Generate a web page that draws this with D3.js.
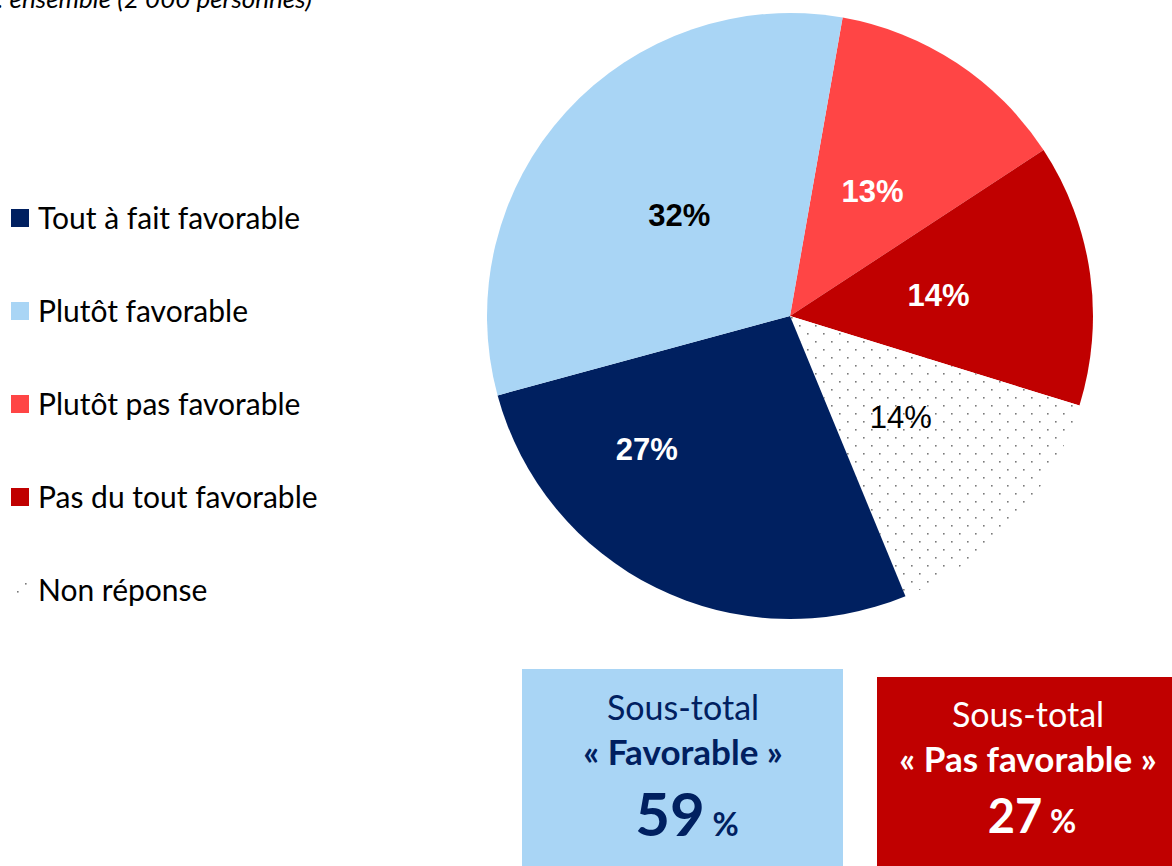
<!DOCTYPE html>
<html>
<head>
<meta charset="utf-8">
<script src="https://cdn.jsdelivr.net/npm/d3@7"></script>
<style>
  html, body { margin: 0; padding: 0; background: #fff; overflow: hidden; }
  svg { display: block; }
</style>
</head>
<body>
<script>
// ---------- data ----------
const categories = ["Tout à fait favorable", "Plutôt favorable", "Plutôt pas favorable", "Pas du tout favorable", "Non réponse"];
const values = [27, 32, 13, 14, 14];
const sliceOrder = ["Plutôt pas favorable", "Pas du tout favorable", "Non réponse", "Tout à fait favorable", "Plutôt favorable"];
const colors = ["#002060", "#A9D5F5", "#FF4545", "#C00000", "pattern"];
const labelColors = ["#fff", "#000", "#fff", "#fff", "#000"];
const labelBold = [true, true, true, true, false];
const subtotalLabels = ["« Favorable »", "« Pas favorable »"];
const subtotalValues = [59, 27];
const subtitle = ": ensemble (2 000 personnes)";

// ---------- layout ----------
const W = 1172, H = 866;
const cx = 790, cy = 316, R = 303;
const startDeg = 10;
const labelNudge = { "Tout à fait favorable": [-77, -2] };

const svg = d3.select("body").append("svg").attr("width", W).attr("height", H);
const defs = svg.append("defs");
const pat = defs.append("pattern").attr("id", "dots").attr("patternUnits", "userSpaceOnUse")
  .attr("width", 16).attr("height", 16);
pat.append("rect").attr("width", 16).attr("height", 16).attr("fill", "#fff");
pat.append("rect").attr("x", 1).attr("y", 1).attr("width", 1.6).attr("height", 1.6).attr("fill", "#7a7a7a");
pat.append("rect").attr("x", 9).attr("y", 9).attr("width", 1.6).attr("height", 1.6).attr("fill", "#7a7a7a");

const fill = c => { const v = colors[categories.indexOf(c)]; return v === "pattern" ? "url(#dots)" : v; };

// subtitle
svg.append("text").attr("x", -3).attr("y", 8)
  .attr("font-family", "Lato, 'Open Sans', sans-serif").attr("font-style", "italic")
  .attr("font-size", 26).attr("fill", "#000").text(subtitle);

// pie
const pieData = sliceOrder.map(c => ({ cat: c, value: values[categories.indexOf(c)] }));
const start = startDeg * Math.PI / 180;
const pie = d3.pie().sort(null).value(d => d.value).startAngle(start).endAngle(start + 2 * Math.PI);
const arc = d3.arc().innerRadius(0).outerRadius(R);
const labelArc = d3.arc().innerRadius(0).outerRadius(R * 0.99);
const g = svg.append("g").attr("transform", `translate(${cx},${cy})`);
const arcs = pie(pieData);
g.selectAll("path.slice").data(arcs).join("path").attr("class", "slice")
  .attr("d", arc).attr("fill", d => fill(d.data.cat));

g.selectAll("text.lbl").data(arcs).join("text").attr("class", "lbl")
  .attr("transform", d => {
    const [x, y] = labelArc.centroid(d);
    const n = labelNudge[d.data.cat] || [0, 0];
    return `translate(${x + n[0]},${y + n[1]})`;
  })
  .attr("text-anchor", "middle").attr("dy", "0.36em")
  .attr("font-family", "'Liberation Sans', Arial, sans-serif")
  .attr("font-size", 31)
  .attr("font-weight", d => labelBold[categories.indexOf(d.data.cat)] ? "bold" : "normal")
  .attr("fill", d => labelColors[categories.indexOf(d.data.cat)])
  .text(d => d.data.value + "%");

// legend
const ly = d3.scalePoint().domain(categories).range([218, 590]);
const leg = svg.append("g").selectAll("g").data(categories).join("g")
  .attr("transform", d => `translate(0,${ly(d)})`);
leg.append("rect").attr("x", 11).attr("y", -9).attr("width", 18).attr("height", 18)
  .attr("fill", d => fill(d));
leg.append("text").attr("x", 38).attr("y", 0).attr("dy", "0.35em")
  .attr("font-family", "Lato, 'Open Sans', sans-serif").attr("font-size", 30)
  .attr("fill", "#000").text(d => d);

// subtotal boxes
const boxes = [
  { x: 522, y: 669, w: 321, h: 197, bg: "#A9D5F5", fg: "#002060", cxT: 683, ys: [720, 765, 836], big: 60 },
  { x: 877, y: 677, w: 304, h: 189, bg: "#C00000", fg: "#FFFFFF", cxT: 1028, ys: [727, 772, 833], big: 47 }
];
boxes.forEach((b, i) => {
  svg.append("rect").attr("x", b.x).attr("y", b.y).attr("width", b.w).attr("height", b.h).attr("fill", b.bg);
  const t = (y, txt, size, weight) => svg.append("text").attr("x", b.cxT).attr("y", y)
    .attr("text-anchor", "middle").attr("font-family", "Lato, 'Open Sans', sans-serif")
    .attr("font-size", size).attr("font-weight", weight).attr("fill", b.fg).text(txt);
  t(b.ys[0], "Sous-total", 34, "normal");
  t(b.ys[1], subtotalLabels[i], 35, "bold");
  const big = svg.append("text").attr("x", b.cxT + 4).attr("y", b.ys[2])
    .attr("text-anchor", "middle").attr("font-family", "Lato, 'Open Sans', sans-serif")
    .attr("font-weight", "bold").attr("fill", b.fg);
  big.append("tspan").attr("font-size", b.big).text(subtotalValues[i]);
  big.append("tspan").attr("font-size", 32).text(" %");
});
</script>
</body>
</html>
